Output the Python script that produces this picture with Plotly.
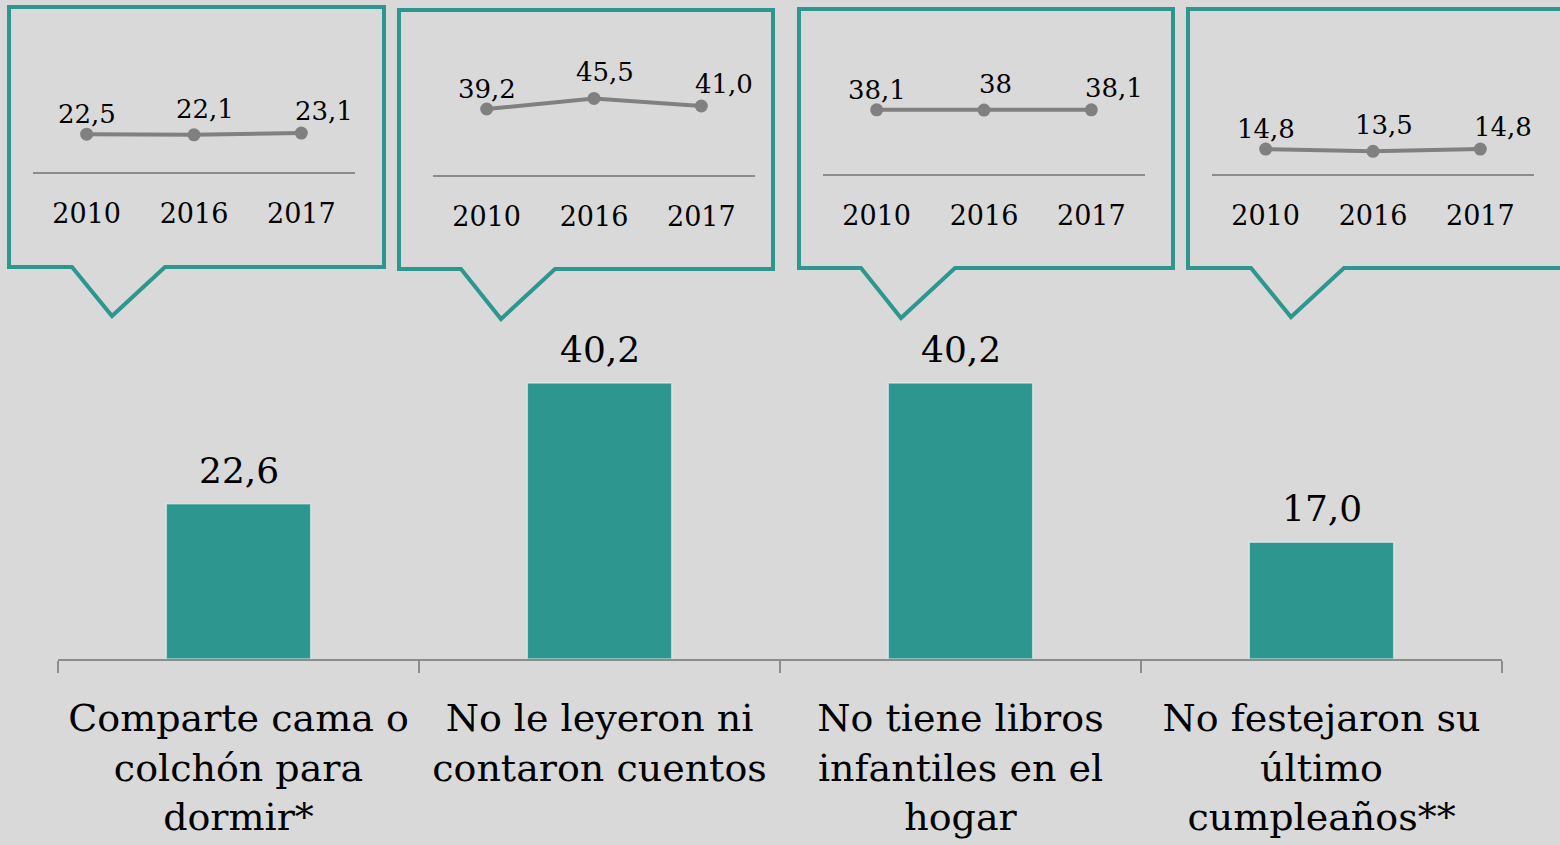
import plotly.graph_objects as go

W, H = 1560, 845

categories = [
    "Comparte cama o<br>colchón para<br>dormir*",
    "No le leyeron ni<br>contaron cuentos",
    "No tiene libros<br>infantiles en el<br>hogar",
    "No festejaron su<br>último<br>cumpleaños**",
]
values_2019 = [22.6, 40.2, 40.2, 17.0]

years = ["2010", "2016", "2017"]
trend_values = [
    [22.5, 22.1, 23.1],
    [39.2, 45.5, 41.0],
    [38.1, 38.0, 38.1],
    [14.8, 13.5, 14.8],
]
trend_labels = [
    ["22,5", "22,1", "23,1"],
    ["39,2", "45,5", "41,0"],
    ["38,1", "38", "38,1"],
    ["14,8", "13,5", "14,8"],
]

TEAL = "#2d978f"
GRAY = "#808080"
BG = "#d9d9d9"
FONT = "DejaVu Serif"


def px_x(x):
    return x / W


def px_y(y):
    return 1 - y / H


fig = go.Figure()

fig.add_trace(
    go.Bar(x=categories,
           y=values_2019,
           marker=dict(color=TEAL, line=dict(color="rgba(235,245,244,0.6)", width=1.5)),
           showlegend=False))

for cat, v in zip(categories, values_2019):
    fig.add_annotation(x=cat, y=v, xref="x", yref="y",
                       text=f"{v:.1f}".replace(".", ","),
                       showarrow=False, yanchor="bottom", yshift=11,
                       font=dict(size=36, color="black", family=FONT))

# inset boxes: (left, top, right, bottom, ptr_left, tip_x, tip_y, ptr_right, axis_y, plot_left)
boxes = [
    (9, 7, 384, 267, 72, 112, 316, 165, 172, 33),
    (399, 10, 773, 269, 461, 501, 319, 555, 175, 433),
    (799, 9, 1173, 268, 861, 901, 318, 955, 174, 823),
    (1188, 9, 1575, 268, 1251, 1291, 317, 1344, 174, 1212),
]

shapes = []
for i, (l, t, r, b, pl, tx, ty, pr, ay, xl) in enumerate(boxes):
    pts = [(l, t), (r, t), (r, b), (pr, b), (tx, ty), (pl, b), (l, b)]
    path = "M " + " L ".join(f"{px_x(x):.5f},{px_y(y):.5f}" for x, y in pts) + " Z"
    shapes.append(dict(type="path", path=path, xref="paper", yref="paper",
                       line=dict(color=TEAL, width=4), fillcolor="rgba(0,0,0,0)",
                       layer="above"))

    n = i + 2
    fig.add_trace(
        go.Scatter(x=years, y=trend_values[i], mode="lines+markers",
                   line=dict(color=GRAY, width=4),
                   marker=dict(color=GRAY, size=13),
                   xaxis=f"x{n}", yaxis=f"y{n}", showlegend=False,
                   cliponaxis=False))
    xa = dict(domain=[px_x(xl), px_x(xl + 322)], type="category",
              range=[-0.5, len(years) - 0.5],
              showline=True, linecolor="#8c8c8c", linewidth=1.5,
              showgrid=False, zeroline=False, ticks="", tickangle=0,
              tickfont=dict(size=27, color="black", family=FONT),
              ticklabelstandoff=17, anchor=f"y{n}", fixedrange=True)
    ya = dict(domain=[px_y(ay), px_y(ay - 101)], range=[0, 60],
              visible=False, anchor=f"x{n}", fixedrange=True)
    fig.layout[f"xaxis{n}"] = xa
    fig.layout[f"yaxis{n}"] = ya
    for j, (v, lab) in enumerate(zip(trend_values[i], trend_labels[i])):
        fig.add_annotation(x=j, y=v, xref=f"x{n}", yref=f"y{n}", text=lab,
                           showarrow=False, xshift=[0, 11, 23][j],
                           yshift=[20, 26, 22][j],
                           font=dict(size=26, color="black", family=FONT))

fig.update_layout(
    width=W, height=H,
    paper_bgcolor=BG, plot_bgcolor=BG,
    margin=dict(l=0, r=0, t=0, b=0),
    bargap=0.6,
    shapes=shapes,
    xaxis=dict(domain=[px_x(58), px_x(1502)], type="category",
               showline=True, linecolor="#8c8c8c", linewidth=1.5,
               ticks="outside", tickson="boundaries", ticklen=12,
               tickcolor="#8c8c8c", tickwidth=1.5, showgrid=False,
               tickangle=0,
               tickfont=dict(size=38, color="black", family=FONT),
               ticklabelstandoff=25, automargin=False, fixedrange=True),
    yaxis=dict(domain=[186 / H, 1], range=[0, 96], visible=False,
               fixedrange=True),
)

fig.write_html("out.html", config={"displayModeBar": False},
               post_script="document.body.style.margin='0';")
